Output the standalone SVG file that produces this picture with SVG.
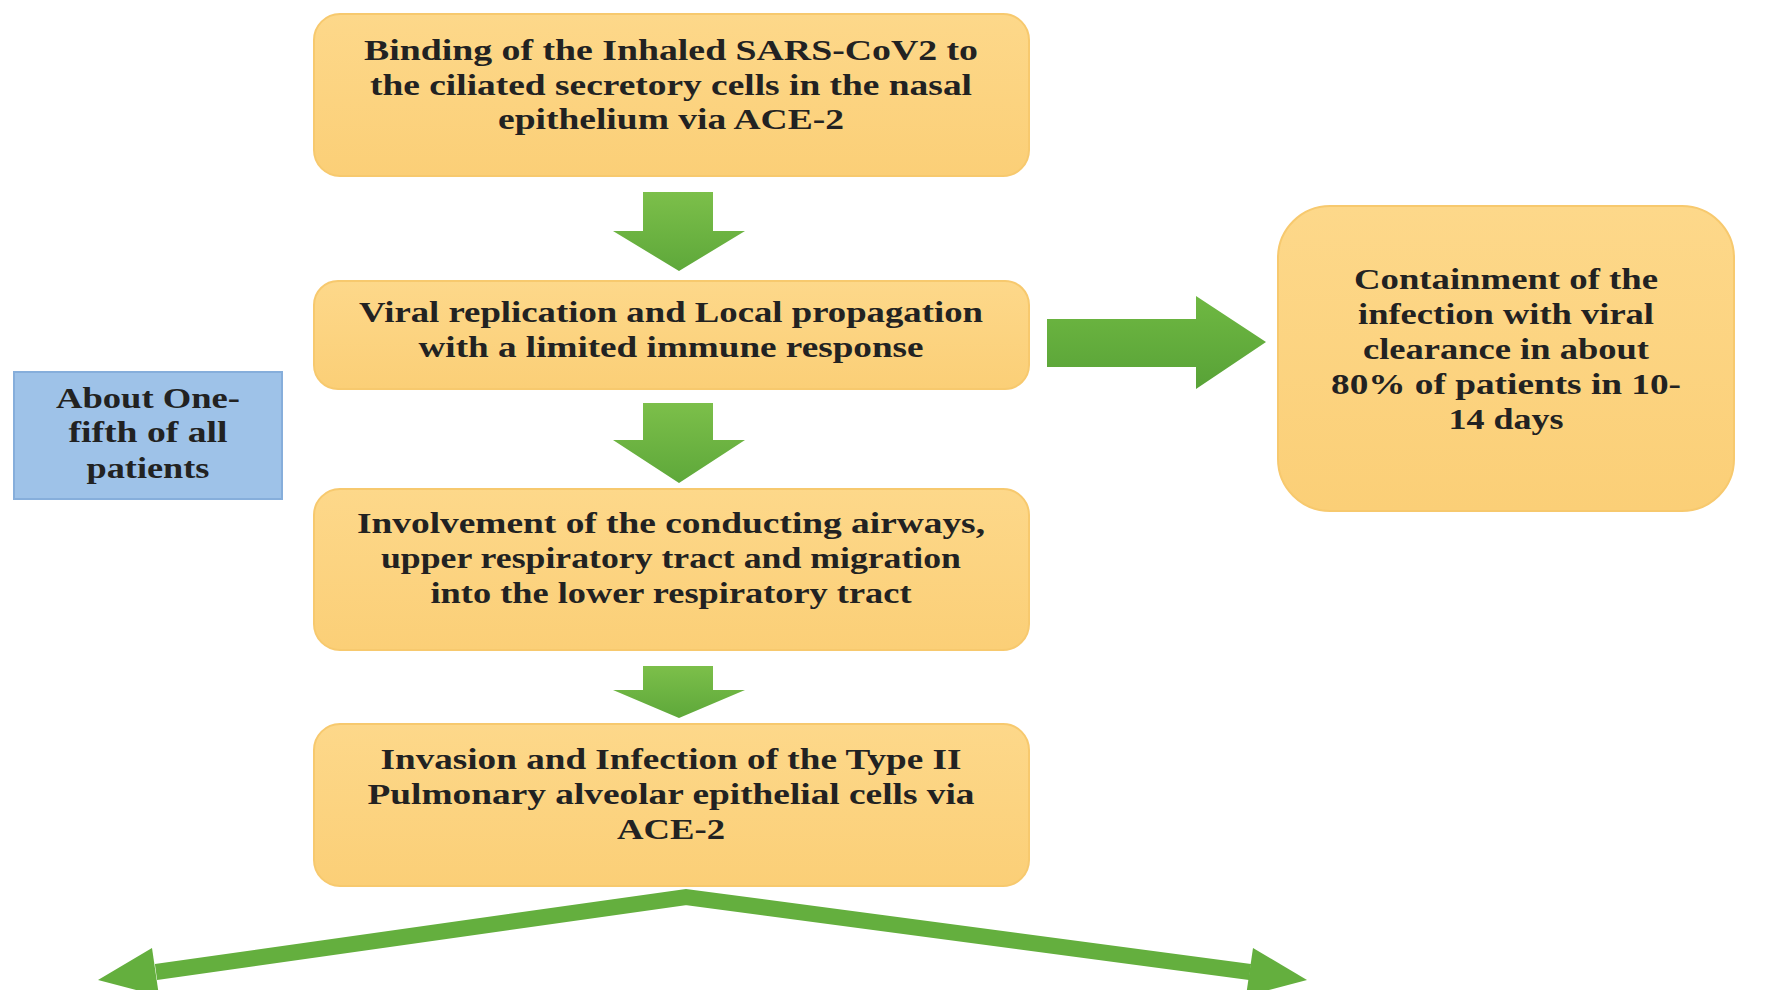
<svg xmlns="http://www.w3.org/2000/svg" width="1769" height="990" viewBox="0 0 1769 990">
<defs>
<linearGradient id="boxg" x1="0" y1="0" x2="0" y2="1">
<stop offset="0" stop-color="#FDD88A"/>
<stop offset="1" stop-color="#FBCF77"/>
</linearGradient>
<linearGradient id="arrg" x1="0" y1="0" x2="0" y2="1">
<stop offset="0" stop-color="#7CBF4A"/>
<stop offset="1" stop-color="#5EA83A"/>
</linearGradient>
<linearGradient id="arrh" x1="0" y1="0" x2="0" y2="1">
<stop offset="0" stop-color="#6FB842"/>
<stop offset="1" stop-color="#58A237"/>
</linearGradient>
</defs>
<style>
.box{fill:url(#boxg);stroke:#F7C96E;stroke-width:2}
.blue{fill:#9EC2E8;stroke:#86AEDB;stroke-width:2}
.t{font-family:"Liberation Serif","Times New Roman",serif;font-weight:bold;font-size:29px;fill:#222;text-anchor:middle}
.dn{fill:url(#arrg)}
.rt{fill:url(#arrh)}
.ln{fill:none;stroke:#64AF3E;stroke-width:16;stroke-linejoin:miter}
.hd{fill:#64AF3E}
</style>
<rect width="1769" height="990" fill="#FFFFFF"/>

<g id="connectors">
<polygon class="dn" points="643,192 713,192 713,231 745,231 679,271 613,231 643,231"/>
<polygon class="dn" points="643,403 713,403 713,440 745,440 679,483 613,440 643,440"/>
<polygon class="dn" points="643,666 713,666 713,690 745,690 679,718 613,690 643,690"/>
<polygon class="rt" points="1047,319 1196,319 1196,296 1266,342 1196,389 1196,367 1047,367"/>
<polyline class="ln" points="156,972 686,897 1250,972"/>
<polygon class="hd" points="98,980 152,948 159,996"/>
<polygon class="hd" points="1307,980 1253,948 1246,996"/>
</g>

<g id="node1">
<rect class="box" x="314" y="14" width="715" height="162" rx="26"/>
<text class="t" x="671" y="60" textLength="614" lengthAdjust="spacingAndGlyphs">Binding of the Inhaled SARS-CoV2 to</text>
<text class="t" x="671" y="95" textLength="602" lengthAdjust="spacingAndGlyphs">the ciliated secretory cells in the nasal</text>
<text class="t" x="671" y="129" textLength="346" lengthAdjust="spacingAndGlyphs">epithelium via ACE-2</text>
</g>

<g id="node2">
<rect class="box" x="314" y="281" width="715" height="108" rx="24"/>
<text class="t" x="671" y="322" textLength="624" lengthAdjust="spacingAndGlyphs">Viral replication and Local propagation</text>
<text class="t" x="671" y="357" textLength="505" lengthAdjust="spacingAndGlyphs">with a limited immune response</text>
</g>

<g id="node3">
<rect class="box" x="314" y="489" width="715" height="161" rx="26"/>
<text class="t" x="671" y="533" textLength="628" lengthAdjust="spacingAndGlyphs">Involvement of the conducting airways,</text>
<text class="t" x="671" y="568" textLength="580" lengthAdjust="spacingAndGlyphs">upper respiratory tract and migration</text>
<text class="t" x="671" y="603" textLength="481" lengthAdjust="spacingAndGlyphs">into the lower respiratory tract</text>
</g>

<g id="node4">
<rect class="box" x="314" y="724" width="715" height="162" rx="26"/>
<text class="t" x="671" y="769" textLength="581" lengthAdjust="spacingAndGlyphs">Invasion and Infection of the Type II</text>
<text class="t" x="671" y="804" textLength="607" lengthAdjust="spacingAndGlyphs">Pulmonary alveolar epithelial cells via</text>
<text class="t" x="671" y="839" textLength="108" lengthAdjust="spacingAndGlyphs">ACE-2</text>
</g>

<g id="node5">
<rect class="box" x="1278" y="206" width="456" height="305" rx="52"/>
<text class="t" x="1506" y="289" textLength="304" lengthAdjust="spacingAndGlyphs">Containment of the</text>
<text class="t" x="1506" y="324" textLength="296" lengthAdjust="spacingAndGlyphs">infection with viral</text>
<text class="t" x="1506" y="359" textLength="286" lengthAdjust="spacingAndGlyphs">clearance in about</text>
<text class="t" x="1506" y="394" textLength="350" lengthAdjust="spacingAndGlyphs">80% of patients in 10-</text>
<text class="t" x="1506" y="429" textLength="115" lengthAdjust="spacingAndGlyphs">14 days</text>
</g>

<g id="node6">
<rect class="blue" x="14" y="372" width="268" height="127"/>
<text class="t" x="148" y="408" textLength="184" lengthAdjust="spacingAndGlyphs">About One-</text>
<text class="t" x="148" y="442" textLength="159" lengthAdjust="spacingAndGlyphs">fifth of all</text>
<text class="t" x="148" y="478" textLength="123" lengthAdjust="spacingAndGlyphs">patients</text>
</g>
</svg>
